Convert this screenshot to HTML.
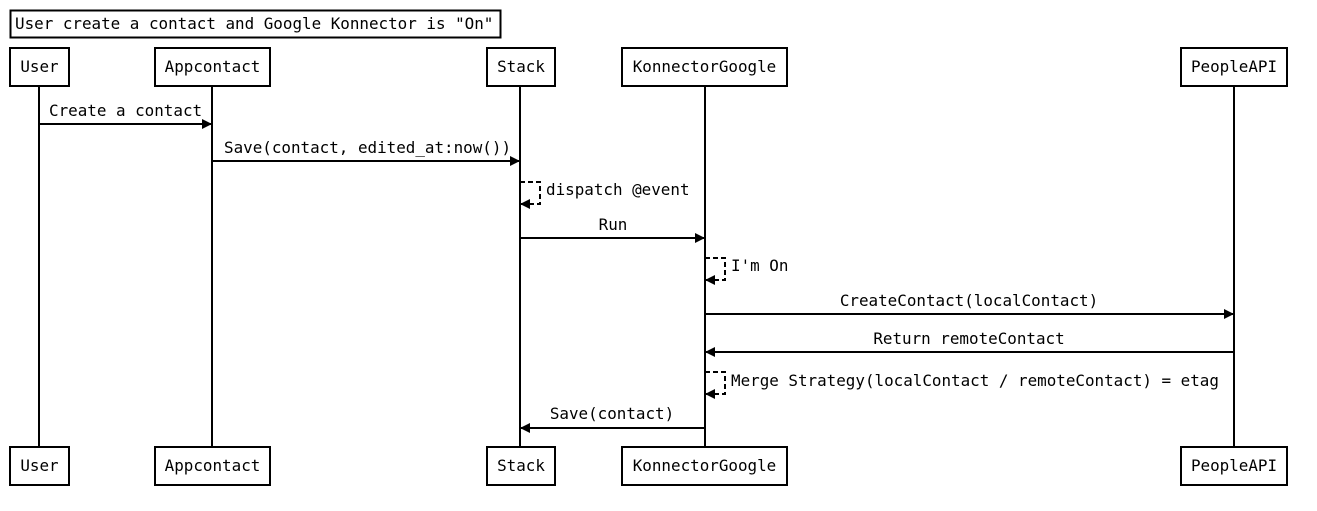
<!DOCTYPE html>
<html><head><meta charset="utf-8"><style>html,body{margin:0;padding:0;background:#fff}</style></head><body>
<svg width="1317" height="506" xmlns="http://www.w3.org/2000/svg" font-family="'DejaVu Sans Mono','Liberation Mono',monospace" font-size="15.9" fill="#000">
<defs><marker id="a" markerWidth="10" markerHeight="10" refX="9" refY="5" orient="auto" markerUnits="userSpaceOnUse"><path d="M0,0 L10,5 L0,10 z" fill="#000"/></marker></defs>
<rect x="10.5" y="10.5" width="490" height="27" fill="#fff" stroke="#000" stroke-width="2"/>
<text x="15" y="29">User create a contact and Google Konnector is "On"</text>
<g stroke="#000" stroke-width="2">
<line x1="39" y1="86" x2="39" y2="447"/><line x1="212" y1="86" x2="212" y2="447"/><line x1="520" y1="86" x2="520" y2="447"/><line x1="705" y1="86" x2="705" y2="447"/><line x1="1234" y1="86" x2="1234" y2="447"/>
</g>
<g fill="#fff" stroke="#000" stroke-width="2">
<rect x="10" y="48" width="59" height="38"/><rect x="155" y="48" width="115" height="38"/><rect x="487" y="48" width="68" height="38"/><rect x="622" y="48" width="165" height="38"/><rect x="1181" y="48" width="106" height="38"/>
<rect x="10" y="447" width="59" height="38"/><rect x="155" y="447" width="115" height="38"/><rect x="487" y="447" width="68" height="38"/><rect x="622" y="447" width="165" height="38"/><rect x="1181" y="447" width="106" height="38"/>
</g>
<g text-anchor="middle">
<text x="39.5" y="72">User</text><text x="212.5" y="72">Appcontact</text><text x="521" y="72">Stack</text><text x="704.5" y="72">KonnectorGoogle</text><text x="1234" y="72">PeopleAPI</text>
<text x="39.5" y="471">User</text><text x="212.5" y="471">Appcontact</text><text x="521" y="471">Stack</text><text x="704.5" y="471">KonnectorGoogle</text><text x="1234" y="471">PeopleAPI</text>
</g>
<g stroke="#000" stroke-width="2" fill="none">
<line x1="39" y1="124" x2="211" y2="124" marker-end="url(#a)"/>
<line x1="212" y1="161" x2="519" y2="161" marker-end="url(#a)"/>
<path d="M520,182 H540 V204 H521" stroke-dasharray="5,3" marker-end="url(#a)"/>
<line x1="520" y1="238" x2="704" y2="238" marker-end="url(#a)"/>
<path d="M705,258 H725 V280 H706" stroke-dasharray="5,3" marker-end="url(#a)"/>
<line x1="705" y1="314" x2="1233" y2="314" marker-end="url(#a)"/>
<line x1="1234" y1="352" x2="706" y2="352" marker-end="url(#a)"/>
<path d="M705,372 H725 V394 H706" stroke-dasharray="5,3" marker-end="url(#a)"/>
<line x1="705" y1="428" x2="521" y2="428" marker-end="url(#a)"/>
</g>
<text x="49" y="116">Create a contact</text>
<text x="224" y="153">Save(contact, edited_at:now())</text>
<text x="546" y="195">dispatch @event</text>
<text x="613" y="230" text-anchor="middle">Run</text>
<text x="731" y="271">I'm On</text>
<text x="969" y="306" text-anchor="middle">CreateContact(localContact)</text>
<text x="969" y="344" text-anchor="middle">Return remoteContact</text>
<text x="731" y="386">Merge Strategy(localContact / remoteContact) = etag</text>
<text x="612" y="419" text-anchor="middle">Save(contact)</text>
</svg>
</body></html>
